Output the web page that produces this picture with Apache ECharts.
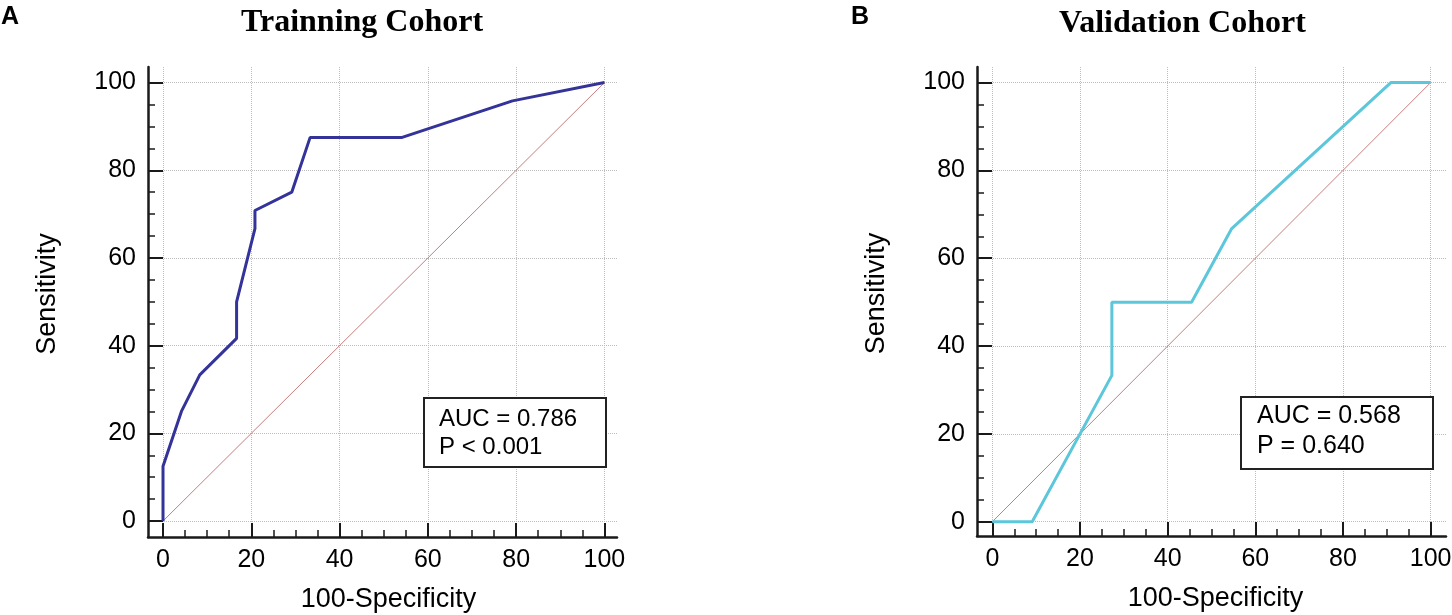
<!DOCTYPE html>
<html>
<head>
<meta charset="UTF-8">
<script src="https://cdn.jsdelivr.net/npm/echarts@6.0.0/dist/echarts.min.js"></script>
<style>
    html, body { margin: 0; padding: 0; background: #ffffff; }
    #roc { width: 1452px; height: 615px; }
</style>
</head>
<body>
<div id="roc"></div>
<script>
    /* ROC 数据: 100-Specificity / Sensitivity */
    var trainFpr = [0, 0, 4.17, 8.33, 16.67, 16.67, 20.83, 20.83, 29.17, 33.33, 54.17, 79.17, 100];
    var trainTpr = [0, 12.5, 25, 33.33, 41.67, 50, 66.67, 70.83, 75, 87.5, 87.5, 95.83, 100];
    var validFpr = [0, 9.09, 27.27, 27.27, 45.45, 54.55, 90.91, 100];
    var validTpr = [0, 0, 33.33, 50, 50, 66.67, 100, 100];
    var refLine = [0, 100];

    var majorTicks = [0, 20, 40, 60, 80, 100];
    var minorTicks = [0, 5, 10, 15, 20, 25, 30, 35, 40, 45, 50, 55, 60, 65, 70, 75, 80, 85, 90, 95, 100];

    var trainTitle = 'Trainning Cohort';
    var validTitle = 'Validation Cohort';
    var trainStats = ['AUC = 0.786', 'P < 0.001'];
    var validStats = ['AUC = 0.568', 'P = 0.640'];

    var sans = "'Liberation Sans', Arial, Helvetica, sans-serif";
    var serif = "'Liberation Serif', 'Times New Roman', serif";
    var ink = '#1a1a1a';

    function pairs(xs, ys) {
        return xs.map(function (x, i) { return [x, ys[i]]; });
    }

    function mainAxis(dim, gridIndex, min, max, name, nameGap, namePad) {
        return {
            type: 'value',
            gridIndex: gridIndex,
            min: min,
            max: max,
            position: dim === 'x' ? 'bottom' : 'left',
            name: name,
            nameLocation: 'middle',
            nameGap: nameGap,
            nameRotate: dim === 'x' ? 0 : 90,
            nameMoveOverlap: false,
            nameTextStyle: { color: '#000', fontSize: 27, fontFamily: sans, padding: namePad },
            axisLine: { show: true, onZero: false, lineStyle: { color: ink, width: 2.5 } },
            axisTick: { show: true, inside: true, length: dim === 'x' ? 14 : 15, customValues: majorTicks,
                lineStyle: { color: ink, width: 2 } },
            axisLabel: { show: true, customValues: majorTicks, margin: dim === 'x' ? 11 : 12,
                color: '#000', fontSize: 25, fontFamily: sans },
            splitLine: { show: true, lineStyle: { color: '#bdbdbd', type: 'dotted', width: 1 } }
        };
    }

    function minorAxis(dim, gridIndex, min, max) {
        return {
            type: 'value',
            gridIndex: gridIndex,
            min: min,
            max: max,
            position: dim === 'x' ? 'bottom' : 'left',
            axisLine: { show: false, onZero: false },
            axisTick: { show: true, inside: true, length: 7, customValues: minorTicks,
                lineStyle: { color: ink, width: 1.5 } },
            axisLabel: { show: false },
            splitLine: { show: false }
        };
    }

    function statBox(lines, left, top, fontSize, lineHeight, padding) {
        return {
            text: lines.join('\n'),
            left: left,
            top: top,
            padding: padding,
            backgroundColor: '#ffffff',
            borderColor: '#222222',
            borderWidth: 2,
            textStyle: { color: '#000', fontSize: fontSize, lineHeight: lineHeight,
                fontWeight: 'normal', fontFamily: sans }
        };
    }

    var chart = echarts.init(document.getElementById('roc'));
    var option = {
        backgroundColor: '#ffffff',
        animation: false,
        title: [
            { text: 'A', left: 1, top: 5, padding: 0,
                textStyle: { color: '#000', fontSize: 25, fontWeight: 'bold', fontFamily: sans } },
            { text: trainTitle, left: 241, top: 7, padding: 0,
                textStyle: { color: '#000', fontSize: 32, fontWeight: 'bold', fontFamily: serif } },
            { text: 'B', left: 851, top: 5, padding: 0,
                textStyle: { color: '#000', fontSize: 25, fontWeight: 'bold', fontFamily: sans } },
            { text: validTitle, left: 1059, top: 8, padding: 0,
                textStyle: { color: '#000', fontSize: 32, fontWeight: 'bold', fontFamily: serif } },
            statBox(trainStats, 424, 398, 24, 28, [7, 29, 6, 15]),
            statBox(validStats, 1241, 397, 25, 30, [4, 32, 8, 16])
        ],
        grid: [
            { left: 148, top: 67, right: 835, bottom: 78, outerBoundsMode: 'none' },
            { left: 977, top: 67, right: 6, bottom: 79, outerBoundsMode: 'none' }
        ],
        xAxis: [
            mainAxis('x', 0, -3.4, 102.85, '100-Specificity', 49, [0, 0, 0, 12]),
            minorAxis('x', 0, -3.4, 102.85),
            mainAxis('x', 1, -3.5, 103.5, '100-Specificity', 49, [0, 0, 0, 8]),
            minorAxis('x', 1, -3.5, 103.5)
        ],
        yAxis: [
            mainAxis('y', 0, -3.64, 103.55, 'Sensitivity', 87, [0, 0, 0, 16]),
            minorAxis('y', 0, -3.64, 103.55),
            mainAxis('y', 1, -3.25, 103.55, 'Sensitivity', 87, [0, 0, 0, 16]),
            minorAxis('y', 1, -3.25, 103.55)
        ],
        series: [
            {
                type: 'line', xAxisIndex: 0, yAxisIndex: 0, z: 2,
                data: pairs(refLine, refLine), showSymbol: false, silent: true,
                lineStyle: { color: '#c77d7d', width: 1 }
            },
            {
                type: 'line', xAxisIndex: 0, yAxisIndex: 0, z: 3,
                data: pairs(trainFpr, trainTpr), showSymbol: false,
                lineStyle: { color: '#33339a', width: 3 }
            },
            {
                type: 'line', xAxisIndex: 2, yAxisIndex: 2, z: 2,
                data: pairs(refLine, refLine), showSymbol: false, silent: true,
                lineStyle: { color: '#c77d7d', width: 1 }
            },
            {
                type: 'line', xAxisIndex: 2, yAxisIndex: 2, z: 3,
                data: pairs(validFpr, validTpr), showSymbol: false,
                lineStyle: { color: '#5cc6da', width: 3 }
            }
        ]
    };
    chart.setOption(option);

    window.addEventListener('resize', function () {
        chart.resize();
    });
</script>
</body>
</html>
